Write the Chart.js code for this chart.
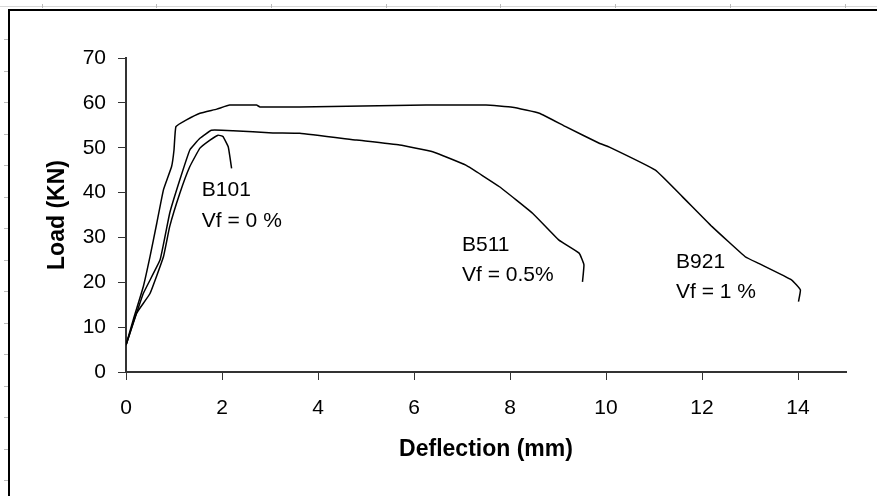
<!DOCTYPE html>
<html>
<head>
<meta charset="utf-8">
<script src="https://cdn.jsdelivr.net/npm/chart.js@4.4.0/dist/chart.umd.min.js"></script>
<style>
  html, body { margin: 0; padding: 0; background: #fff; }
  #wrap { width: 877px; height: 496px; }
</style>
</head>
<body>
<div id="wrap"><canvas id="LoadChart" width="877" height="496"></canvas></div>
<script>
// load-deflection curves
var b101X = [0, 0.22, 0.50, 0.78, 0.91, 1.12, 1.33, 1.54, 1.75, 1.92, 2.02, 2.13, 2.20];
var b101Y = [6, 13.1, 17.5, 25.7, 32.4, 39.8, 45.8, 49.9, 51.7, 52.8, 52.5, 50.2, 45.4];

var b511X = [0, 0.36, 0.71, 0.91, 1.12, 1.33, 1.54, 1.78, 2.23, 3.06, 3.62, 4.80, 5.70, 6.39, 7.08, 7.78, 8.47, 9.02, 9.44, 9.54, 9.51];
var b511Y = [6, 17.5, 25.0, 35.4, 42.8, 49.5, 52.1, 53.9, 53.8, 53.3, 53.2, 51.7, 50.6, 49.1, 46.1, 41.3, 35.4, 29.4, 26.5, 23.9, 20.1];

var b921X = [0, 0.15, 0.36, 0.50, 0.64, 0.78, 0.95, 1.00, 1.04, 1.26, 1.54, 1.89, 2.16, 2.72, 2.79, 3.62, 6.25, 7.50, 8.05, 8.61, 9.16, 9.86, 10.06, 11.03, 11.59, 12.21, 12.90, 13.18, 13.87, 14.05, 14.01];
var b921Y = [6, 11.6, 19.0, 25.7, 33.1, 40.6, 45.8, 49.5, 54.7, 56.2, 57.7, 58.6, 59.5, 59.5, 59.1, 59.1, 59.5, 59.5, 59.0, 57.7, 54.7, 51.0, 50.2, 45.0, 39.1, 32.4, 25.7, 24.2, 20.5, 18.3, 15.7];

// curve labels (data coordinates)
var noteText = ["B101", "Vf = 0 %", "B511", "Vf = 0.5%", "B921", "Vf = 1 %"];
var noteX = [1.58, 1.58, 7.0, 7.0, 11.46, 11.46];
var noteY = [40.5, 33.7, 28.3, 21.6, 24.5, 17.8];

var FONT = "'Liberation Sans', Arial, sans-serif";

function pts(xs, ys) {
    return xs.map(function (x, i) { return { x: x, y: ys[i] }; });
}

function curve(label, xs, ys) {
    return {
        label: label,
        data: pts(xs, ys),
        showLine: true,
        borderColor: '#000',
        borderWidth: 1.5,
        pointRadius: 0,
        tension: 0.1,
        fill: false
    };
}

// white page, frame and the little ruler marks round it
var framePlugin = {
    id: 'frame',
    beforeDraw: function (chart) {
        var c = chart.ctx;
        c.save();
        c.fillStyle = '#fff';
        c.fillRect(0, 0, chart.width, chart.height);
        c.strokeStyle = '#d8d8d8';
        c.lineWidth = 1;
        c.beginPath();
        c.moveTo(0, 6.5); c.lineTo(chart.width, 6.5);
        c.stroke();
        c.strokeStyle = '#bbb';
        c.beginPath();
        [42, 156, 271, 386, 500, 615, 730, 845].forEach(function (x) {
            c.moveTo(x + 0.5, 4); c.lineTo(x + 0.5, 8);
        });
        for (var y = 39; y < chart.height; y += 31.5) {
            c.moveTo(4, Math.round(y) + 0.5); c.lineTo(8, Math.round(y) + 0.5);
        }
        c.stroke();
        c.strokeStyle = '#000';
        c.lineWidth = 2;
        c.beginPath();
        c.moveTo(9, chart.height); c.lineTo(9, 10); c.lineTo(chart.width, 10);
        c.stroke();
        c.restore();
    }
};

var notesPlugin = {
    id: 'notes',
    afterDatasetsDraw: function (chart) {
        var c = chart.ctx, xs = chart.scales.x, ys = chart.scales.y;
        c.save();
        c.fillStyle = '#000';
        c.font = '21px ' + FONT;
        c.textAlign = 'left';
        c.textBaseline = 'middle';
        noteText.forEach(function (t, i) {
            c.fillText(t, xs.getPixelForValue(noteX[i]), ys.getPixelForValue(noteY[i]));
        });
        c.restore();
    }
};

var ctx = document.getElementById('LoadChart');
var chart = new Chart(ctx, {
    type: 'scatter',
    data: {
        datasets: [
            curve('B101', b101X, b101Y),
            curve('B511', b511X, b511Y),
            curve('B921', b921X, b921Y)
        ]
    },
    options: {
        responsive: false,
        animation: false,
        layout: { padding: { left: 20, top: 58, right: 31, bottom: 20 } },
        plugins: {
            legend: { display: false },
            tooltip: { enabled: false }
        },
        scales: {
            x: {
                type: 'linear',
                min: 0,
                max: 15,
                afterBuildTicks: function (s) {
                    s.ticks = s.ticks.filter(function (t) { return t.value % 2 === 0; });
                },
                afterFit: function (s) { s.height = 104; },
                ticks: { stepSize: 2, padding: 16, color: '#000', font: { family: FONT, size: 21 }, maxRotation: 0 },
                grid: { drawOnChartArea: false, drawTicks: true, tickLength: 8, color: '#333', lineWidth: 1 },
                border: { display: true, color: '#333', width: 2 },
                title: {
                    display: true,
                    text: 'Deflection (mm)',
                    color: '#000',
                    font: { family: FONT, size: 23, weight: 'bold', lineHeight: 1.2 },
                    padding: { top: 0, bottom: 13 }
                }
            },
            y: {
                type: 'linear',
                min: 0,
                max: 70,
                afterFit: function (s) { s.width = 106; },
                ticks: { stepSize: 10, padding: 12, color: '#000', font: { family: FONT, size: 21 } },
                grid: { drawOnChartArea: false, drawTicks: true, tickLength: 8, color: '#333', lineWidth: 1 },
                border: { display: true, color: '#333', width: 2 },
                title: {
                    display: true,
                    text: 'Load (KN)',
                    color: '#000',
                    font: { family: FONT, size: 23, weight: 'bold', lineHeight: 1.2 },
                    padding: { top: 24, bottom: 0 }
                }
            }
        }
    },
    plugins: [framePlugin, notesPlugin]
});
</script>
</body>
</html>
